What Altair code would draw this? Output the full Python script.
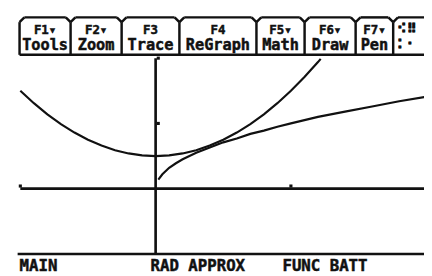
import altair as alt
import pandas as pd

parab_x = [-1.0, -0.9, -0.8, -0.7, -0.6, -0.5, -0.4, -0.3, -0.2, -0.1, 0.0,
           0.1, 0.2, 0.3, 0.4, 0.5, 0.6, 0.7, 0.8, 0.9, 1.0, 1.1, 1.2, 1.22]
parab_y = [1.50, 1.31, 1.14, 0.99, 0.86, 0.75, 0.66, 0.59, 0.54, 0.51, 0.50,
           0.51, 0.54, 0.59, 0.66, 0.75, 0.86, 0.99, 1.14, 1.31, 1.50, 1.71, 1.94, 1.99]
root_x = [0.02, 0.05, 0.1, 0.15, 0.2, 0.3, 0.4, 0.5, 0.6, 0.7, 0.8, 0.9, 1.0,
          1.2, 1.4, 1.6, 1.8, 2.0]
root_y = [0.14, 0.22, 0.32, 0.39, 0.45, 0.55, 0.63, 0.71, 0.77, 0.84, 0.89, 0.95, 1.0,
          1.10, 1.18, 1.26, 1.34, 1.41]
window_x = [-1, 2]
window_y = [-1, 2]
x_ticks = [-1, 1]
y_ticks = [1, 2]
tab_keys = ["F1▾", "F2▾", "F3", "F4", "F5▾", "F6▾", "F7▾"]
tab_names = ["Tools", "Zoom", "Trace", "ReGraph", "Math", "Draw", "Pen"]
status_items = ["MAIN", "RAD APPROX", "FUNC BATT"]

# ---------------- layout (reference pixels) ----------------
W, H = 424, 268
SX, SY = W / 432, H / 276
X0, XU = 153.3, 140.5
Y0, YU = 187.0, 68.5
TAB_EDGES = [12, 65, 118, 178, 258, 308, 361, 400, 448]
TOP_Y, BAR_Y, STATUS_Y = 7.2, 46.5, 255.5
STATUS_X = [12, 148, 285]
INK = "#111111"
MONO = "DejaVu Sans Mono"

xs = alt.Scale(domain=[(0 - X0) / XU, (432 - X0) / XU], range=[0, W], nice=False, zero=False)
ys = alt.Scale(domain=[(Y0 - 276) / YU, Y0 / YU], range=[H, 0], nice=False, zero=False)


def X(f):
    return alt.X(f, type="quantitative", scale=xs, axis=None)


def Y(f):
    return alt.Y(f, type="quantitative", scale=ys, axis=None)


parab = alt.Chart(pd.DataFrame({"x": parab_x, "y": parab_y})).mark_line(
    color=INK, strokeWidth=2.2, clip=True).encode(x=X("x"), y=Y("y"))
root = alt.Chart(pd.DataFrame({"x": root_x, "y": root_y})).mark_line(
    color=INK, strokeWidth=2.2, clip=True).encode(x=X("x"), y=Y("y"))

axes_df = pd.DataFrame({"x": [window_x[0], 0], "x2": [window_x[1], 0],
                        "y": [0, window_y[0]], "y2": [0, window_y[1]]})
axes = alt.Chart(axes_df).mark_rule(color=INK, strokeWidth=2.7, clip=True).encode(
    x=X("x"), x2="x2", y=Y("y"), y2="y2")

xt = alt.Chart(pd.DataFrame({"x": x_ticks, "y": [0] * len(x_ticks)})).mark_square(
    color=INK, size=10, opacity=1, yOffset=-2.7).encode(x=X("x"), y=Y("y"))
yt = alt.Chart(pd.DataFrame({"x": [0] * len(y_ticks), "y": y_ticks})).mark_square(
    color=INK, size=10, opacity=1, xOffset=2.7).encode(x=X("x"), y=Y("y"))

# ---------------- screen decoration (pixel positions) ----------------
segs = []
for i in range(len(TAB_EDGES) - 1):
    a, b = TAB_EDGES[i], TAB_EDGES[i + 1]
    segs.append((a + 5, TOP_Y, b - 5, TOP_Y))
    segs.append((a, TOP_Y + 5, a + 5, TOP_Y))
    segs.append((b - 5, TOP_Y, b, TOP_Y + 5))
    segs.append((a, TOP_Y + 5, a, BAR_Y))
segs.append((12, BAR_Y, 432, BAR_Y))
segs.append((10, STATUS_Y, 432, STATUS_Y))
seg_df = pd.DataFrame([{"x": p[0] * SX, "x2": p[2] * SX, "y": p[1] * SY, "y2": p[3] * SY}
                       for p in segs])
frame = alt.Chart(seg_df).mark_rule(color=INK, strokeWidth=2.5).encode(
    x=alt.X("x:Q", scale=None), x2="x2", y=alt.Y("y:Q", scale=None), y2="y2")

TXT = dict(font=MONO, fontWeight="bold", color=INK, stroke=INK, strokeWidth=0.5,
           baseline="alphabetic")

centers = [(TAB_EDGES[i] + TAB_EDGES[i + 1]) / 2 for i in range(len(tab_keys))]
keys_df = pd.DataFrame({"t": tab_keys, "x": [c * SX for c in centers], "y": [25.0 * SY] * len(tab_keys)})
names_df = pd.DataFrame({"t": tab_names, "x": [c * SX for c in centers], "y": [41.5 * SY] * len(tab_names)})
keys = alt.Chart(keys_df).mark_text(fontSize=13 * SY, align="center", **TXT).encode(
    x=alt.X("x:Q", scale=None), y=alt.Y("y:Q", scale=None), text="t:N")
names = alt.Chart(names_df).mark_text(fontSize=16 * SY, align="center", **TXT).encode(
    x=alt.X("x:Q", scale=None), y=alt.Y("y:Q", scale=None), text="t:N")
icon_df = pd.DataFrame({"t": ["⠪⠿", "⠅⠂"], "x": [404 * SX, 404 * SX], "y": [24 * SY, 40 * SY]})
icon = alt.Chart(icon_df).mark_text(fontSize=14 * SY, align="left", **TXT).encode(
    x=alt.X("x:Q", scale=None), y=alt.Y("y:Q", scale=None), text="t:N")

status_df = pd.DataFrame({"t": status_items, "x": [v * SX for v in STATUS_X],
                          "y": [273.0 * SY] * len(status_items)})
status = alt.Chart(status_df).mark_text(fontSize=16.5 * SY, align="left", **TXT).encode(
    x=alt.X("x:Q", scale=None), y=alt.Y("y:Q", scale=None), text="t:N")

chart = alt.layer(axes, xt, yt, parab, root, frame, keys, names, icon, status).resolve_scale(
    x="independent", y="independent"
).properties(
    width=W, height=H, padding=0, background="white",
    autosize=alt.AutoSizeParams(type="none"),
).configure_view(stroke=None)

chart.save("out.html", embed_options={"renderer": "svg", "actions": False})
